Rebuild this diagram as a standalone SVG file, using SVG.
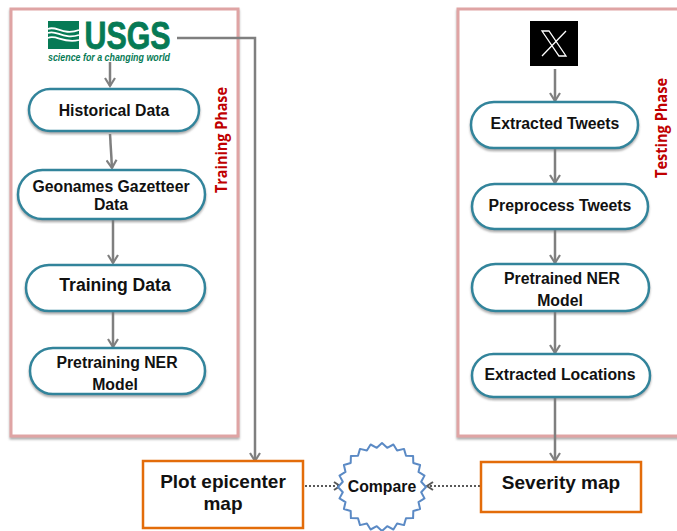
<svg xmlns="http://www.w3.org/2000/svg" width="677" height="531" viewBox="0 0 677 531">
<style>
text{font-family:"Liberation Sans",Arial,sans-serif;font-weight:bold;fill:#111;text-anchor:middle}
.frame{fill:#fff;stroke:#dfa4a4;stroke-width:3;filter:url(#sh)}
.pill{fill:#fff;stroke:#31849b;stroke-width:2.500;filter:url(#sh)}
.box{fill:#fff;stroke:#e36c0a;stroke-width:2.500}
.phase{font-family:"Open Sans","Noto Sans",sans-serif;fill:#c00000;font-size:16.500px;font-weight:700}
.c{fill:none;stroke:#7f7f7f;stroke-width:2.500;marker-end:url(#ah)}
.d{fill:none;stroke:#595959;stroke-width:2;stroke-dasharray:2 2;marker-end:url(#ad)}
.n16{font-size:15.800px}.n17{font-size:17.600px}.n19{font-size:19px}
</style>
<defs>
<filter id="sh" x="-5%" y="-5%" width="110%" height="115%"><feDropShadow dx="0" dy="2" stdDeviation="1.2" flood-color="#777" flood-opacity=".6"/></filter>
<marker id="ah" markerUnits="userSpaceOnUse" markerWidth="14" markerHeight="12" refX="11" refY="6" orient="auto"><path d="M3 1L11 6L3 11" fill="none" stroke="#7f7f7f" stroke-width="2.200"/></marker>
<marker id="ad" markerUnits="userSpaceOnUse" markerWidth="10" markerHeight="10" refX="8" refY="5" orient="auto"><path d="M2 1L8 5L2 9" fill="none" stroke="#595959" stroke-width="2"/></marker>
</defs>
<g id="training-frame"><rect class="frame" x="11" y="9" width="227" height="427"/><text class="phase" transform="translate(226.500,140) rotate(-90)" textLength="106" lengthAdjust="spacingAndGlyphs">Training Phase</text></g>
<g id="testing-frame"><rect class="frame" x="458" y="9" width="225" height="427"/><text class="phase" transform="translate(666.500,128) rotate(-90)" textLength="100" lengthAdjust="spacingAndGlyphs">Testing Phase</text></g>
<g id="connectors">
<path class="c" d="M177 38H255V461"/>
<path class="c" d="M110 62V86"/>
<path class="c" d="M110 134L112 168"/>
<path class="c" d="M113 219V263"/>
<path class="c" d="M113 311V347"/>
<path class="c" d="M555 69V101"/>
<path class="c" d="M555 149V183"/>
<path class="c" d="M555 230V263"/>
<path class="c" d="M555 311V353"/>
<path class="c" d="M555 398V461"/>
<path class="d" d="M305 486H340"/>
<path class="d" d="M480 486H427"/>
</g>
<g id="usgs">
<rect x="48" y="21" width="31" height="28" fill="#067a55"/>
<path d="M48 29C56 25 63 36 79 30M48 33C56 29 63 40 79 35M48 38C56 34 63 44 79 40" fill="none" stroke="#fff" stroke-width="1.800"/>
<text x="127.500" y="48.500" font-size="38" textLength="86" lengthAdjust="spacingAndGlyphs" style="fill:#067a55;stroke:#067a55;stroke-width:.8">USGS</text>
<text x="109" y="61" font-size="10" font-style="italic" textLength="122" lengthAdjust="spacingAndGlyphs" style="fill:#067a55">science for a changing world</text>
</g>
<g id="x-logo">
<rect x="530" y="21" width="48" height="45" fill="#000"/>
<path d="M542 31H549L566 56H559ZM566 31L542 56" fill="none" stroke="#fff" stroke-width="1.300"/>
</g>
<g id="historical"><rect class="pill" x="29" y="89" width="170" height="42" rx="21"/><text class="n16" x="114" y="116">Historical Data</text></g>
<g id="geonames"><rect class="pill" x="18" y="170" width="187" height="49" rx="24.500"/><text class="n16" x="111" y="192">Geonames Gazetteer</text><text class="n16" x="111" y="210">Data</text></g>
<g id="training"><rect class="pill" x="26" y="265" width="179" height="46" rx="23"/><text class="n17" x="115" y="291">Training Data</text></g>
<g id="pretraining"><rect class="pill" x="30" y="348" width="175" height="46" rx="23"/><text class="n16" x="117" y="368">Pretraining NER</text><text class="n16" x="115" y="390">Model</text></g>
<g id="tweets"><rect class="pill" x="471" y="102" width="167" height="46" rx="23"/><text class="n16" x="555" y="129">Extracted Tweets</text></g>
<g id="preprocess"><rect class="pill" x="472" y="184" width="176" height="45" rx="22.500"/><text class="n16" x="560" y="211">Preprocess Tweets</text></g>
<g id="pretrained"><rect class="pill" x="472" y="264" width="177" height="47" rx="23.500"/><text class="n16" x="562" y="284">Pretrained NER</text><text class="n16" x="560" y="306">Model</text></g>
<g id="locations"><rect class="pill" x="472" y="354" width="178" height="43" rx="21.500"/><text class="n16" x="560" y="380">Extracted Locations</text></g>
<g id="plot"><rect class="box" x="143" y="461" width="160" height="67"/><text class="n19" x="223" y="488">Plot epicenter</text><text class="n19" x="223" y="510">map</text></g>
<g id="severity"><rect class="box" x="481" y="462" width="160" height="50"/><text class="n19" x="561" y="489">Severity map</text></g>
<g id="compare"><polygon transform="translate(382,487)" fill="#fff" stroke="#5b8ac5" stroke-width="2" stroke-linejoin="round" points="44,0 39.200,5.200 42.500,11.400 36.500,15.100 38.100,22 31.300,24 31.100,31.100 24,31.300 22,38.100 15.100,36.500 11.400,42.500 5.200,39.200 0,44 -5.200,39.200 -11.400,42.500 -15.100,36.500 -22,38.100 -24,31.300 -31.100,31.100 -31.300,24 -38.100,22 -36.500,15.100 -42.500,11.400 -39.200,5.200 -44,0 -39.200,-5.200 -42.500,-11.400 -36.500,-15.100 -38.100,-22 -31.300,-24 -31.100,-31.100 -24,-31.300 -22,-38.100 -15.100,-36.500 -11.400,-42.500 -5.200,-39.200 0,-44 5.200,-39.200 11.400,-42.500 15.100,-36.500 22,-38.100 24,-31.300 31.100,-31.100 31.300,-24 38.100,-22 36.500,-15.100 42.500,-11.400 39.200,-5.200"/><text class="n16" x="382" y="492">Compare</text></g>
</svg>
